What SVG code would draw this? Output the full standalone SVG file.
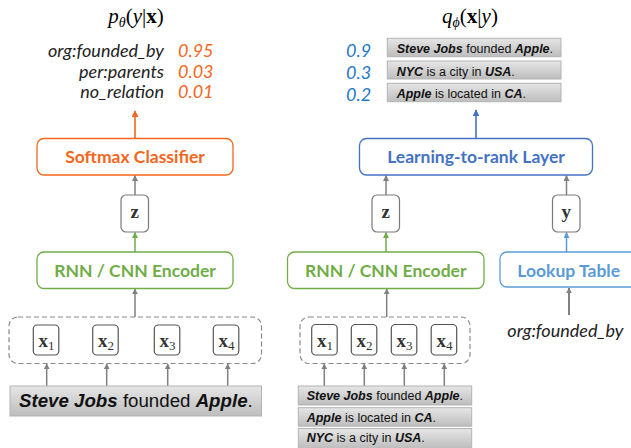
<svg xmlns="http://www.w3.org/2000/svg" width="631" height="448" viewBox="0 0 631 448">
<defs>
<style>
.box{fill:#fff;stroke-width:1.3}
.orange{stroke:#F4661B}
.green{stroke:#70AD47}
.ltr{stroke:#4472C4}
.lk{stroke:#5B9BD5}
.var{fill:#fff;stroke:#7a7a7a;stroke-width:1.2}
.xv{fill:#fff;stroke:#555;stroke-width:1.2}
.dash{fill:none;stroke:#8a8a8a;stroke-width:1.2;stroke-dasharray:5 3}
.sent{fill:url(#sg);stroke:#b3b3b3;stroke-width:1}
.lbl{font-family:Lato,"Open Sans",sans-serif;font-weight:bold;text-anchor:middle;font-size:17.5px}
.it{font-family:Lato,"Open Sans",sans-serif;font-style:italic;font-size:18px}
.math{font-family:"Liberation Serif","DejaVu Serif",serif;font-size:21px}
.bx{font-family:"Liberation Serif","DejaVu Serif",serif;font-weight:bold;font-size:19px;fill:#333}
.st{font-family:"Liberation Sans",Arial,sans-serif;fill:#111}
.b{font-weight:bold;font-style:italic}
.ga{stroke:#808080;stroke-width:1.5;fill:none;marker-end:url(#ag)}
.gr{stroke:#70AD47;stroke-width:1.5;fill:none;marker-end:url(#agr)}
</style>
<linearGradient id="sg" x1="0" y1="0" x2="0" y2="1">
<stop offset="0" stop-color="#e6e6e6"/>
<stop offset="1" stop-color="#bdbdbd"/>
</linearGradient>
<marker id="ag" viewBox="0 0 10 10" refX="9" refY="5" markerWidth="6" markerHeight="6" markerUnits="userSpaceOnUse" orient="auto"><path d="M0,0L10,5L0,10z" fill="#808080"/></marker>
<marker id="agr" viewBox="0 0 10 10" refX="9" refY="5" markerWidth="6" markerHeight="6" markerUnits="userSpaceOnUse" orient="auto"><path d="M0,0L10,5L0,10z" fill="#70AD47"/></marker>
<marker id="ao" viewBox="0 0 10 10" refX="9" refY="5" markerWidth="7" markerHeight="7" markerUnits="userSpaceOnUse" orient="auto"><path d="M0,0L10,5L0,10z" fill="#F4661B"/></marker>
<marker id="ab" viewBox="0 0 10 10" refX="9" refY="5" markerWidth="7" markerHeight="7" markerUnits="userSpaceOnUse" orient="auto"><path d="M0,0L10,5L0,10z" fill="#4472C4"/></marker>
<marker id="alb" viewBox="0 0 10 10" refX="9" refY="5" markerWidth="6" markerHeight="6" markerUnits="userSpaceOnUse" orient="auto"><path d="M0,0L10,5L0,10z" fill="#5B9BD5"/></marker>
</defs>

<g id="connectors">
<line x1="135" y1="138" x2="135" y2="111" stroke="#F4661B" stroke-width="1.6" marker-end="url(#ao)"/>
<line class="ga" x1="135" y1="195" x2="135" y2="175.5"/>
<line class="gr" x1="135" y1="252" x2="135" y2="232.5"/>
<line class="ga" x1="135" y1="317" x2="135" y2="289"/>
<line class="ga" x1="46.7" y1="386" x2="46.7" y2="364"/>
<line class="ga" x1="106.7" y1="386" x2="106.7" y2="364"/>
<line class="ga" x1="167.7" y1="386" x2="167.7" y2="364"/>
<line class="ga" x1="227.7" y1="386" x2="227.7" y2="364"/>
<line x1="476" y1="138" x2="476" y2="110" stroke="#4472C4" stroke-width="1.6" marker-end="url(#ab)"/>
<line class="ga" x1="386" y1="195" x2="386" y2="175.5"/>
<line class="ga" x1="566.5" y1="195" x2="566.5" y2="175.5"/>
<line class="gr" x1="386" y1="252" x2="386" y2="232.5"/>
<line x1="566.5" y1="252" x2="566.5" y2="232.5" stroke="#5B9BD5" stroke-width="1.5" marker-end="url(#alb)"/>
<line class="ga" x1="386.7" y1="317" x2="386.7" y2="289"/>
<line class="ga" x1="324.3" y1="386" x2="324.3" y2="364"/>
<line class="ga" x1="364.3" y1="386" x2="364.3" y2="364"/>
<line class="ga" x1="404.3" y1="386" x2="404.3" y2="364"/>
<line class="ga" x1="444.3" y1="386" x2="444.3" y2="364"/>
<line x1="569" y1="315" x2="569" y2="288" stroke="#808080" stroke-width="2" marker-end="url(#ag)"/>
</g>

<g id="title-p">
<text class="math" x="136" y="23" text-anchor="middle"><tspan font-style="italic">p</tspan><tspan font-style="italic" font-size="14" dy="4">θ</tspan><tspan dy="-4">(</tspan><tspan font-style="italic">y</tspan>|<tspan font-weight="bold">x</tspan>)</text>
</g>
<g id="title-q">
<text class="math" x="470" y="23" text-anchor="middle"><tspan font-style="italic">q</tspan><tspan font-style="italic" font-size="14" dy="4">ϕ</tspan><tspan dy="-4">(</tspan><tspan font-weight="bold">x</tspan>|<tspan font-style="italic">y</tspan>)</text>
</g>

<g id="output-labels">
<text class="it" x="164" y="57" text-anchor="end" fill="#222">org:founded_by</text>
<text class="it" x="164" y="77.5" text-anchor="end" fill="#222">per:parents</text>
<text class="it" x="164" y="98" text-anchor="end" fill="#222">no_relation</text>
<text class="it" x="178" y="57" fill="#F4661B">0.95</text>
<text class="it" x="178" y="77.5" fill="#F4661B">0.03</text>
<text class="it" x="178" y="98" fill="#F4661B">0.01</text>
</g>

<g id="softmax">
<rect class="box orange" x="37" y="138.5" width="196" height="36.5" rx="7"/>
<text class="lbl" x="135" y="162.5" fill="#F4661B">Softmax Classifier</text>
</g>
<g id="z-left">
<rect class="var" x="121" y="195" width="27.5" height="37" rx="5"/>
<text class="bx" x="134.75" y="218" text-anchor="middle">z</text>
</g>
<g id="encoder-left">
<rect class="box green" x="37" y="252" width="196" height="36.5" rx="7"/>
<text class="lbl" x="135" y="276.5" fill="#70AD47">RNN / CNN Encoder</text>
</g>
<g id="tokens-left">
<rect class="dash" x="9" y="317" width="252.5" height="46.5" rx="9"/>
<rect class="xv" x="33.3" y="325" width="25.5" height="30" rx="4"/>
<text class="bx" x="38.5" y="347">x<tspan font-weight="normal" font-size="13" dy="3">1</tspan></text>
<rect class="xv" x="92.7" y="325" width="25.5" height="30" rx="4"/>
<text class="bx" x="97.9" y="347">x<tspan font-weight="normal" font-size="13" dy="3">2</tspan></text>
<rect class="xv" x="154.3" y="325" width="25.5" height="30" rx="4"/>
<text class="bx" x="159.5" y="347">x<tspan font-weight="normal" font-size="13" dy="3">3</tspan></text>
<rect class="xv" x="213.3" y="325" width="25.5" height="30" rx="4"/>
<text class="bx" x="218.5" y="347">x<tspan font-weight="normal" font-size="13" dy="3">4</tspan></text>
</g>
<g id="sentence-left">
<rect class="sent" x="10" y="386" width="251.5" height="30"/>
<text class="st" x="19" y="406.5" font-size="18.7"><tspan class="b">Steve Jobs</tspan> founded <tspan class="b">Apple</tspan>.</text>
</g>

<g id="ranked">
<text class="it" x="346" y="56.5" fill="#2478C8">0.9</text>
<text class="it" x="346" y="79" fill="#2478C8">0.3</text>
<text class="it" x="346" y="100.7" fill="#2478C8">0.2</text>
<rect class="sent" x="387.3" y="38.3" width="173.7" height="18.4"/>
<text class="st" x="396.7" y="53" font-size="12.5"><tspan class="b">Steve Jobs</tspan> founded <tspan class="b">Apple</tspan>.</text>
<rect class="sent" x="387.3" y="61" width="173.7" height="18"/>
<text class="st" x="396.7" y="75.5" font-size="12.5"><tspan class="b">NYC</tspan> is a city in <tspan class="b">USA</tspan>.</text>
<rect class="sent" x="387.3" y="83.3" width="173.7" height="18.4"/>
<text class="st" x="396.7" y="98" font-size="12.5"><tspan class="b">Apple</tspan> is located in <tspan class="b">CA</tspan>.</text>
</g>

<g id="ltr">
<rect class="box ltr" x="359.5" y="138.5" width="233" height="36.5" rx="7"/>
<text class="lbl" x="476" y="162.5" fill="#4472C4">Learning-to-rank Layer</text>
</g>
<g id="z-right">
<rect class="var" x="372" y="195" width="27.5" height="37" rx="5"/>
<text class="bx" x="385.75" y="218" text-anchor="middle">z</text>
</g>
<g id="y-var">
<rect class="var" x="552.5" y="195" width="27.5" height="37" rx="5"/>
<text class="bx" x="566.25" y="218" text-anchor="middle">y</text>
</g>
<g id="encoder-right">
<rect class="box green" x="287.5" y="252" width="196.5" height="36.5" rx="7"/>
<text class="lbl" x="385.7" y="276.5" fill="#70AD47">RNN / CNN Encoder</text>
</g>
<g id="lookup">
<rect class="box lk" x="500" y="252" width="140" height="35" rx="7"/>
<text class="lbl" x="568.7" y="276.5" fill="#5B9BD5">Lookup Table</text>
</g>
<g id="relation-input">
<text class="it" x="507.3" y="336.7" fill="#222">org:founded_by</text>
</g>
<g id="tokens-right">
<rect class="dash" x="300" y="317" width="170" height="46.5" rx="9"/>
<rect class="xv" x="311.7" y="324.5" width="25.5" height="30.5" rx="4"/>
<text class="bx" x="316.9" y="347">x<tspan font-weight="normal" font-size="13" dy="3">1</tspan></text>
<rect class="xv" x="351.3" y="324.5" width="25.5" height="30.5" rx="4"/>
<text class="bx" x="356.5" y="347">x<tspan font-weight="normal" font-size="13" dy="3">2</tspan></text>
<rect class="xv" x="391.3" y="324.5" width="25.5" height="30.5" rx="4"/>
<text class="bx" x="396.5" y="347">x<tspan font-weight="normal" font-size="13" dy="3">3</tspan></text>
<rect class="xv" x="431.2" y="324.5" width="25.5" height="30.5" rx="4"/>
<text class="bx" x="436.4" y="347">x<tspan font-weight="normal" font-size="13" dy="3">4</tspan></text>
</g>
<g id="sentences-right">
<rect class="sent" x="298.3" y="386" width="173.4" height="19"/>
<text class="st" x="306.7" y="400.3" font-size="12.5"><tspan class="b">Steve Jobs</tspan> founded <tspan class="b">Apple</tspan>.</text>
<rect class="sent" x="298.3" y="407.7" width="173.4" height="18.5"/>
<text class="st" x="306.7" y="421.8" font-size="12.5"><tspan class="b">Apple</tspan> is located in <tspan class="b">CA</tspan>.</text>
<rect class="sent" x="298.3" y="428.5" width="173.4" height="20"/>
<text class="st" x="306.7" y="442" font-size="12.5"><tspan class="b">NYC</tspan> is a city in <tspan class="b">USA</tspan>.</text>
</g>
</svg>
